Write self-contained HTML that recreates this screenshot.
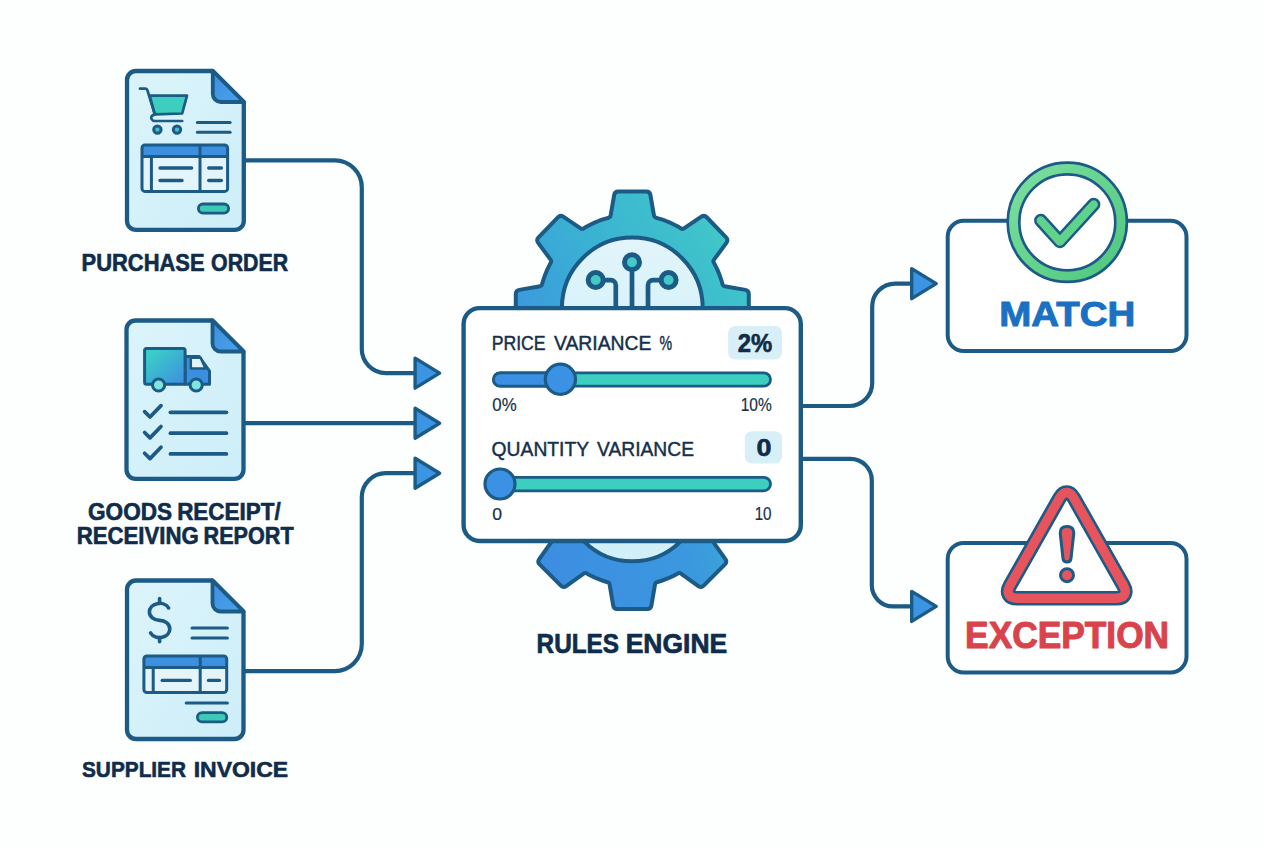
<!DOCTYPE html>
<html><head><meta charset="utf-8"><style>
html,body{margin:0;padding:0;background:#fdfefe;}
body{width:1264px;height:848px;overflow:hidden;font-family:"Liberation Sans",sans-serif;}
svg{position:absolute;left:0;top:0;display:block;}
</style></head><body>
<svg width="1264" height="848" viewBox="0 0 1264 848">
<defs>
<linearGradient id="docg" x1="0" y1="0" x2="1" y2="1"><stop offset="0" stop-color="#dcf4fb"/><stop offset="1" stop-color="#cdeef9"/></linearGradient>
<linearGradient id="foldg" x1="0" y1="0" x2="1" y2="1"><stop offset="0" stop-color="#3d8fe0"/><stop offset="1" stop-color="#4aa3ea"/></linearGradient>
<linearGradient id="truckg" x1="0" y1="0" x2="1" y2="1"><stop offset="0" stop-color="#3ad8c2"/><stop offset="1" stop-color="#3d8de2"/></linearGradient>
<linearGradient id="geartop" x1="0" y1="0.85" x2="1" y2="0.15"><stop offset="0" stop-color="#3c8fe0"/><stop offset="0.5" stop-color="#3ab1d4"/><stop offset="1" stop-color="#42cbc6"/></linearGradient>
<linearGradient id="gearbot" x1="0" y1="0.3" x2="1" y2="0"><stop offset="0" stop-color="#3d8ee2"/><stop offset="0.55" stop-color="#3b98de"/><stop offset="1" stop-color="#3ab4d4"/></linearGradient>
<linearGradient id="innerg" x1="0" y1="0" x2="0" y2="1"><stop offset="0" stop-color="#e2f5fb"/><stop offset="1" stop-color="#d0eff8"/></linearGradient>
<linearGradient id="greeng" x1="0" y1="0" x2="1" y2="1"><stop offset="0" stop-color="#7ddf9f"/><stop offset="1" stop-color="#4fc77f"/></linearGradient>
</defs>
<path d="M244,160.3 L334.8,160.3 A27,27 0 0 1 361.8,187.3 L361.8,349.1 A24,24 0 0 0 385.8,373.1 L416,373.1" fill="none" stroke="#1b5b86" stroke-width="4.2"/>
<path d="M244,423.2 L416,423.2" fill="none" stroke="#1b5b86" stroke-width="4.2"/>
<path d="M244,671.1 L334.8,671.1 A27,27 0 0 0 361.8,644.1 L361.8,497.2 A24,24 0 0 1 385.8,473.2 L416,473.2" fill="none" stroke="#1b5b86" stroke-width="4.2"/>
<path d="M801,406 L849.2,406 A23,23 0 0 0 872.2,383 L872.2,306.6 A23,23 0 0 1 895.2,283.6 L912,283.6" fill="none" stroke="#1b5b86" stroke-width="4.2"/>
<path d="M801,458.9 L850.5,458.9 A21.3,21.3 0 0 1 871.8,480.2 L871.8,585.1 A21.3,21.3 0 0 0 893.1,606.4 L912,606.4" fill="none" stroke="#1b5b86" stroke-width="4.2"/>
<path d="M415.1,358.1 L439.6,373.1 L415.1,388.1 Z" fill="#3b95e3" stroke="#1b5b86" stroke-width="3.4" stroke-linejoin="round"/>
<path d="M415.1,408.2 L439.6,423.2 L415.1,438.2 Z" fill="#3b95e3" stroke="#1b5b86" stroke-width="3.4" stroke-linejoin="round"/>
<path d="M415.1,458.2 L439.6,473.2 L415.1,488.2 Z" fill="#3b95e3" stroke="#1b5b86" stroke-width="3.4" stroke-linejoin="round"/>
<path d="M911.7,268.6 L936.2,283.6 L911.7,298.6 Z" fill="#3b95e3" stroke="#1b5b86" stroke-width="3.4" stroke-linejoin="round"/>
<path d="M911.7,591.4 L936.2,606.4 L911.7,621.4 Z" fill="#3b95e3" stroke="#1b5b86" stroke-width="3.4" stroke-linejoin="round"/>
<path d="M136,71 L212.8,71 L243.8,102 L243.8,220.9 A9,9 0 0 1 234.8,229.9 L136,229.9 A9,9 0 0 1 127,220.9 L127,80 A9,9 0 0 1 136,71 Z" fill="url(#docg)" stroke="#1b5b86" stroke-width="4.3" stroke-linejoin="round"/>
<path d="M212.8,71 L212.8,94 A8,8 0 0 0 220.8,102 L243.8,102 Z" fill="url(#foldg)" stroke="#1b5b86" stroke-width="3.8" stroke-linejoin="round"/>
<path d="M149.6,95.7 L187,95.7 L182.2,113.5 L154.8,114.4 Z" fill="#3ccfc0" stroke="#1b5b86" stroke-width="2.7" stroke-linejoin="round"/>
<path d="M140,88.7 L145.5,88.7 Q147,88.7 147.5,90.5 L154.8,114.4 Q150,116 151.5,119 Q152.5,121 155,121 L182.2,121" fill="none" stroke="#1b5b86" stroke-width="2.7" stroke-linecap="round" stroke-linejoin="round"/>
<circle cx="157.4" cy="129.6" r="3.7" fill="#42c0c8" stroke="#1b5b86" stroke-width="3"/>
<circle cx="177" cy="129.6" r="3.7" fill="#42c0c8" stroke="#1b5b86" stroke-width="3"/>
<line x1="197.4" y1="122.6" x2="230.1" y2="122.6" stroke="#1b5b86" stroke-width="3" stroke-linecap="round"/>
<line x1="197.4" y1="132.2" x2="230.1" y2="132.2" stroke="#1b5b86" stroke-width="3" stroke-linecap="round"/>
<rect x="142" y="145" width="85.6" height="46.400000000000006" rx="3" fill="#e4f4fb" stroke="none"/>
<path d="M142,156.5 L142,148 Q142,145 145,145 L224.6,145 Q227.6,145 227.6,148 L227.6,156.5 Z" fill="#3d8fe0"/>
<rect x="142" y="145" width="85.6" height="46.400000000000006" rx="3" fill="none" stroke="#1b5b86" stroke-width="3.0"/>
<line x1="142" y1="156.5" x2="227.6" y2="156.5" stroke="#1b5b86" stroke-width="3.0"/>
<line x1="200" y1="145" x2="200" y2="191.4" stroke="#1b5b86" stroke-width="3.0"/>
<line x1="151.4" y1="156.5" x2="151.4" y2="191.4" stroke="#1b5b86" stroke-width="3.0"/>
<line x1="160" y1="168" x2="191.7" y2="168" stroke="#1b5b86" stroke-width="3.3" stroke-linecap="round"/>
<line x1="208.7" y1="168" x2="221.4" y2="168" stroke="#1b5b86" stroke-width="3.3" stroke-linecap="round"/>
<line x1="160" y1="180.5" x2="182" y2="180.5" stroke="#1b5b86" stroke-width="3.3" stroke-linecap="round"/>
<line x1="208.7" y1="180.5" x2="221.4" y2="180.5" stroke="#1b5b86" stroke-width="3.3" stroke-linecap="round"/>
<rect x="198.4" y="204" width="30.19999999999999" height="9.099999999999994" rx="4.549999999999997" fill="#3ec9b6" stroke="#1b5b86" stroke-width="2.8"/>
<path d="M135.5,320.5 L212.5,320.5 L243.5,351.5 L243.5,469.8 A9,9 0 0 1 234.5,478.8 L135.5,478.8 A9,9 0 0 1 126.5,469.8 L126.5,329.5 A9,9 0 0 1 135.5,320.5 Z" fill="url(#docg)" stroke="#1b5b86" stroke-width="4.3" stroke-linejoin="round"/>
<path d="M212.5,320.5 L212.5,343.5 A8,8 0 0 0 220.5,351.5 L243.5,351.5 Z" fill="url(#foldg)" stroke="#1b5b86" stroke-width="3.8" stroke-linejoin="round"/>
<path d="M185.1,356.5 L199.2,356.5 L209.5,371 L209.5,384.2 L185.1,384.2 Z" fill="#3b8fe0" stroke="#1b5b86" stroke-width="3" stroke-linejoin="round"/>
<path d="M190.8,357.8 L200.6,357.8 L205.6,368.6 L190.8,368.6 Z" fill="#e3f3fb" stroke="#1b5b86" stroke-width="2.5" stroke-linejoin="round"/>
<rect x="144.6" y="348.6" width="40.5" height="35.6" rx="2" fill="url(#truckg)" stroke="#1b5b86" stroke-width="3"/>
<circle cx="158.6" cy="385" r="6.1" fill="#7fe6dc" stroke="#1b5b86" stroke-width="3"/>
<circle cx="196.2" cy="385" r="6.1" fill="#7fe6dc" stroke="#1b5b86" stroke-width="3"/>
<path d="M144.6,411.6 L150,417.0 L161,405.6" fill="none" stroke="#1b5b86" stroke-width="3.7" stroke-linecap="round" stroke-linejoin="round"/>
<line x1="170.4" y1="412.3" x2="226.4" y2="412.3" stroke="#1b5b86" stroke-width="3.7" stroke-linecap="round"/>
<path d="M144.6,432.5 L150,437.9 L161,426.5" fill="none" stroke="#1b5b86" stroke-width="3.7" stroke-linecap="round" stroke-linejoin="round"/>
<line x1="170.4" y1="433.2" x2="226.4" y2="433.2" stroke="#1b5b86" stroke-width="3.7" stroke-linecap="round"/>
<path d="M144.6,453.2 L150,458.59999999999997 L161,447.2" fill="none" stroke="#1b5b86" stroke-width="3.7" stroke-linecap="round" stroke-linejoin="round"/>
<line x1="170.4" y1="453.9" x2="226.4" y2="453.9" stroke="#1b5b86" stroke-width="3.7" stroke-linecap="round"/>
<path d="M136,580.5 L212.5,580.5 L243.5,611.5 L243.5,730 A9,9 0 0 1 234.5,739 L136,739 A9,9 0 0 1 127,730 L127,589.5 A9,9 0 0 1 136,580.5 Z" fill="url(#docg)" stroke="#1b5b86" stroke-width="4.3" stroke-linejoin="round"/>
<path d="M212.5,580.5 L212.5,603.5 A8,8 0 0 0 220.5,611.5 L243.5,611.5 Z" fill="url(#foldg)" stroke="#1b5b86" stroke-width="3.8" stroke-linejoin="round"/>
<path d="M168.61,607.91 A10.2,8.5 0 0 0 149.40,611.90 A10.2,8.5 0 0 0 159.60,620.40 A10.2,8.5 0 0 1 169.80,629.00 A10.2,8.5 0 0 1 150.59,632.99" fill="none" stroke="#1b5b86" stroke-width="3.6" stroke-linecap="round" stroke-linejoin="round"/>
<line x1="159.6" y1="598.6" x2="159.6" y2="603.40" stroke="#1b5b86" stroke-width="3.6" stroke-linecap="round"/>
<line x1="159.6" y1="637.50" x2="159.6" y2="641.8" stroke="#1b5b86" stroke-width="3.6" stroke-linecap="round"/>
<line x1="192" y1="628" x2="227.4" y2="628" stroke="#1b5b86" stroke-width="3" stroke-linecap="round"/>
<line x1="192" y1="637.9" x2="227.4" y2="637.9" stroke="#1b5b86" stroke-width="3" stroke-linecap="round"/>
<rect x="143.9" y="655.9" width="82.79999999999998" height="36.60000000000002" rx="3" fill="#e4f4fb" stroke="none"/>
<path d="M143.9,667.6 L143.9,658.9 Q143.9,655.9 146.9,655.9 L223.7,655.9 Q226.7,655.9 226.7,658.9 L226.7,667.6 Z" fill="#3d8fe0"/>
<rect x="143.9" y="655.9" width="82.79999999999998" height="36.60000000000002" rx="3" fill="none" stroke="#1b5b86" stroke-width="3.0"/>
<line x1="143.9" y1="667.6" x2="226.7" y2="667.6" stroke="#1b5b86" stroke-width="3.0"/>
<line x1="200.2" y1="655.9" x2="200.2" y2="692.5" stroke="#1b5b86" stroke-width="3.0"/>
<line x1="153.2" y1="667.6" x2="153.2" y2="692.5" stroke="#1b5b86" stroke-width="3.0"/>
<line x1="162.2" y1="680.4" x2="190.3" y2="680.4" stroke="#1b5b86" stroke-width="3.3" stroke-linecap="round"/>
<line x1="208.4" y1="680.4" x2="219.5" y2="680.4" stroke="#1b5b86" stroke-width="3.3" stroke-linecap="round"/>
<line x1="186.2" y1="703" x2="227.4" y2="703" stroke="#1b5b86" stroke-width="3" stroke-linecap="round"/>
<rect x="197.4" y="712.7" width="29.400000000000006" height="9.199999999999932" rx="4.599999999999966" fill="#3ec9b6" stroke="#1b5b86" stroke-width="2.8"/>
<text x="81.58" y="270.60" font-family="Liberation Sans" font-size="23.40" font-weight="bold" fill="#0f2c4a" stroke="#0f2c4a" stroke-width="0.6" stroke-linejoin="round" textLength="123.01" lengthAdjust="spacingAndGlyphs">PURCHASE</text>
<text x="211.06" y="270.60" font-family="Liberation Sans" font-size="23.40" font-weight="bold" fill="#0f2c4a" stroke="#0f2c4a" stroke-width="0.6" stroke-linejoin="round" textLength="77.01" lengthAdjust="spacingAndGlyphs">ORDER</text>
<text x="88.06" y="519.60" font-family="Liberation Sans" font-size="23.11" font-weight="bold" fill="#0f2c4a" stroke="#0f2c4a" stroke-width="0.6" stroke-linejoin="round" textLength="84.01" lengthAdjust="spacingAndGlyphs">GOODS</text>
<text x="177.16" y="519.60" font-family="Liberation Sans" font-size="23.11" font-weight="bold" fill="#0f2c4a" stroke="#0f2c4a" stroke-width="0.6" stroke-linejoin="round" textLength="103.53" lengthAdjust="spacingAndGlyphs">RECEIPT/</text>
<text x="76.66" y="543.50" font-family="Liberation Sans" font-size="23.11" font-weight="bold" fill="#0f2c4a" stroke="#0f2c4a" stroke-width="0.6" stroke-linejoin="round" textLength="122.05" lengthAdjust="spacingAndGlyphs">RECEIVING</text>
<text x="203.62" y="543.50" font-family="Liberation Sans" font-size="23.11" font-weight="bold" fill="#0f2c4a" stroke="#0f2c4a" stroke-width="0.6" stroke-linejoin="round" textLength="90.02" lengthAdjust="spacingAndGlyphs">REPORT</text>
<text x="82.00" y="777.00" font-family="Liberation Sans" font-size="22.67" font-weight="bold" fill="#0f2c4a" stroke="#0f2c4a" stroke-width="0.6" stroke-linejoin="round" textLength="104.01" lengthAdjust="spacingAndGlyphs">SUPPLIER</text>
<text x="193.66" y="777.00" font-family="Liberation Sans" font-size="22.67" font-weight="bold" fill="#0f2c4a" stroke="#0f2c4a" stroke-width="0.6" stroke-linejoin="round" textLength="94.52" lengthAdjust="spacingAndGlyphs">INVOICE</text>
<path d="M722.58,284.52 Q722.97,286.00 724.48,286.26 L745.35,289.90 Q748.80,290.50 748.80,294.00 L748.80,322.00 Q748.80,325.50 745.35,326.10 L724.58,329.72 Q722.97,330.00 722.55,331.59 L722.05,333.49 L721.00,336.94 L719.81,340.35 L718.50,343.70 L717.05,347.01 L715.48,350.26 L713.79,353.44 L712.80,355.14 Q711.97,356.56 712.91,357.90 L725.04,375.14 Q727.05,378.00 724.58,380.48 L704.78,400.28 Q702.30,402.75 699.44,400.74 L682.20,388.61 Q680.86,387.67 679.44,388.50 L677.74,389.49 L674.56,391.18 L671.31,392.75 L668.00,394.20 L664.65,395.51 L661.24,396.70 L657.79,397.75 L655.89,398.25 Q654.30,398.67 654.02,400.28 L650.40,421.05 Q649.80,424.50 646.30,424.50 L618.30,424.50 Q614.80,424.50 614.20,421.05 L610.58,400.28 Q610.30,398.67 608.71,398.25 L606.81,397.75 L603.36,396.70 L599.95,395.51 L596.60,394.20 L593.29,392.75 L590.04,391.18 L586.86,389.49 L585.16,388.50 Q583.74,387.67 582.40,388.61 L565.16,400.74 Q562.30,402.75 559.82,400.28 L540.02,380.48 Q537.55,378.00 539.56,375.14 L551.69,357.90 Q552.63,356.56 551.80,355.14 L550.81,353.44 L549.12,350.26 L547.55,347.01 L546.10,343.70 L544.79,340.35 L543.60,336.94 L542.55,333.49 L542.05,331.59 Q541.63,330.00 540.02,329.72 L519.25,326.10 Q515.80,325.50 515.80,322.00 L515.80,294.00 Q515.80,290.50 519.25,289.90 L540.12,286.26 Q541.63,286.00 542.02,284.52 L542.48,282.75 L543.45,279.53 L544.53,276.34 L545.73,273.20 L547.04,270.10 L548.46,267.06 L549.99,264.06 L550.89,262.46 Q551.63,261.12 550.73,259.89 L538.18,242.82 Q536.10,240.00 538.52,237.47 L557.90,217.26 Q560.33,214.73 563.23,216.69 L580.63,228.39 Q582.09,229.37 583.58,228.45 L585.37,227.36 L588.74,225.49 L592.18,223.76 L595.69,222.18 L599.27,220.74 L602.90,219.45 L606.58,218.32 L608.61,217.78 Q610.30,217.33 610.60,215.61 L614.20,194.95 Q614.80,191.50 618.30,191.50 L646.30,191.50 Q649.80,191.50 650.40,194.95 L654.00,215.61 Q654.30,217.33 655.99,217.78 L658.02,218.32 L661.70,219.45 L665.33,220.74 L668.91,222.18 L672.42,223.76 L675.86,225.49 L679.23,227.36 L681.02,228.45 Q682.51,229.37 683.97,228.39 L701.37,216.69 Q704.27,214.73 706.70,217.26 L726.08,237.47 Q728.50,240.00 726.42,242.82 L713.87,259.89 Q712.97,261.12 713.71,262.46 L714.61,264.06 L716.14,267.06 L717.56,270.10 L718.87,273.20 L720.07,276.34 L721.15,279.53 L722.12,282.75 Z" fill="url(#geartop)" stroke="#1b5b86" stroke-width="4" stroke-linejoin="round"/>
<circle cx="632.3" cy="308" r="70.4" fill="url(#innerg)" stroke="#1b5b86" stroke-width="4"/>
<path d="M721.50,468.57 Q721.89,470.00 723.36,470.25 L744.85,473.91 Q748.30,474.50 748.30,478.00 L748.30,508.00 Q748.30,511.50 744.85,512.09 L723.36,515.75 Q721.89,516.00 721.50,517.43 L721.03,519.15 L720.05,522.27 L718.96,525.36 L717.76,528.40 L716.45,531.40 L715.04,534.35 L713.53,537.25 L712.65,538.80 Q711.92,540.09 712.78,541.30 L725.38,559.09 Q727.41,561.94 724.93,564.42 L703.72,585.63 Q701.24,588.11 698.39,586.08 L680.60,573.48 Q679.39,572.62 678.10,573.35 L676.55,574.23 L673.65,575.74 L670.70,577.15 L667.70,578.46 L664.66,579.66 L661.57,580.75 L658.45,581.73 L656.73,582.20 Q655.30,582.59 655.05,584.06 L651.39,605.55 Q650.80,609.00 647.30,609.00 L617.30,609.00 Q613.80,609.00 613.21,605.55 L609.55,584.06 Q609.30,582.59 607.87,582.20 L606.15,581.73 L603.03,580.75 L599.94,579.66 L596.90,578.46 L593.90,577.15 L590.95,575.74 L588.05,574.23 L586.50,573.35 Q585.21,572.62 584.00,573.48 L566.21,586.08 Q563.36,588.11 560.88,585.63 L539.67,564.42 Q537.19,561.94 539.22,559.09 L551.82,541.30 Q552.68,540.09 551.95,538.80 L551.07,537.25 L549.56,534.35 L548.15,531.40 L546.84,528.40 L545.64,525.36 L544.55,522.27 L543.57,519.15 L543.10,517.43 Q542.71,516.00 541.24,515.75 L519.75,512.09 Q516.30,511.50 516.30,508.00 L516.30,478.00 Q516.30,474.50 519.75,473.91 L541.24,470.25 Q542.71,470.00 543.10,468.57 L543.57,466.85 L544.55,463.73 L545.64,460.64 L546.84,457.60 L548.15,454.60 L549.56,451.65 L551.07,448.75 L551.95,447.20 Q552.68,445.91 551.82,444.70 L539.22,426.91 Q537.19,424.06 539.67,421.58 L560.88,400.37 Q563.36,397.89 566.21,399.92 L584.00,412.52 Q585.21,413.38 586.50,412.65 L588.05,411.77 L590.95,410.26 L593.90,408.85 L596.90,407.54 L599.94,406.34 L603.03,405.25 L606.15,404.27 L607.87,403.80 Q609.30,403.41 609.55,401.94 L613.21,380.45 Q613.80,377.00 617.30,377.00 L647.30,377.00 Q650.80,377.00 651.39,380.45 L655.05,401.94 Q655.30,403.41 656.73,403.80 L658.45,404.27 L661.57,405.25 L664.66,406.34 L667.70,407.54 L670.70,408.85 L673.65,410.26 L676.55,411.77 L678.10,412.65 Q679.39,413.38 680.60,412.52 L698.39,399.92 Q701.24,397.89 703.72,400.37 L724.93,421.58 Q727.41,424.06 725.38,426.91 L712.78,444.70 Q711.92,445.91 712.65,447.20 L713.53,448.75 L715.04,451.65 L716.45,454.60 L717.76,457.60 L718.96,460.64 L720.05,463.73 L721.03,466.85 Z" fill="url(#gearbot)" stroke="#1b5b86" stroke-width="4" stroke-linejoin="round"/>
<circle cx="632.3" cy="493" r="68.3" fill="url(#innerg)" stroke="#1b5b86" stroke-width="4"/>
<path d="M632,270 L632,310" stroke="#1b5b86" stroke-width="4.7" fill="none"/>
<path d="M604,280.2 L610.8,280.2 A5,5 0 0 1 615.8,285.2 L615.8,310" stroke="#1b5b86" stroke-width="4.7" fill="none"/>
<path d="M660,280.2 L653,280.2 A5,5 0 0 0 648,285.2 L648,310" stroke="#1b5b86" stroke-width="4.7" fill="none"/>
<circle cx="632" cy="262.3" r="7.5" fill="#42c9c8" stroke="#1b5b86" stroke-width="5"/>
<circle cx="595.7" cy="280" r="7.5" fill="#42c9c8" stroke="#1b5b86" stroke-width="5"/>
<circle cx="668.6" cy="280" r="7.5" fill="#42c9c8" stroke="#1b5b86" stroke-width="5"/>
<rect x="463.6" y="308.1" width="337.2" height="232.9" rx="16" fill="#ffffff" stroke="#1b5b86" stroke-width="4.4"/>
<text x="491.64" y="350.47" font-family="Liberation Sans" font-size="19.40" font-weight="normal" fill="#14304b" stroke="#14304b" stroke-width="0.45" stroke-linejoin="round" textLength="54.03" lengthAdjust="spacingAndGlyphs">PRICE</text>
<text x="553.96" y="350.47" font-family="Liberation Sans" font-size="19.40" font-weight="normal" fill="#14304b" stroke="#14304b" stroke-width="0.45" stroke-linejoin="round" textLength="97.51" lengthAdjust="spacingAndGlyphs">VARIANCE</text>
<text x="659.52" y="350.47" font-family="Liberation Sans" font-size="19.40" font-weight="normal" fill="#14304b" stroke="#14304b" stroke-width="0.45" stroke-linejoin="round" textLength="12.58" lengthAdjust="spacingAndGlyphs">%</text>
<rect x="728.1" y="325.9" width="53.9" height="33.6" rx="7" fill="#d9eff8"/>
<text x="737.76" y="351.50" font-family="Liberation Sans" font-size="25.15" font-weight="bold" fill="#112c46" stroke="#112c46" stroke-width="0.6" stroke-linejoin="round" textLength="34.47" lengthAdjust="spacingAndGlyphs">2%</text>
<rect x="493.5" y="372.8" width="277" height="13.4" rx="6.7" fill="#3ccfc0" stroke="#1b5b86" stroke-width="2.8"/>
<path d="M560,372.8 L500.2,372.8 A6.7,6.7 0 0 0 500.2,386.2 L560,386.2 Z" fill="#3b90e3" stroke="#1b5b86" stroke-width="2.8"/>
<circle cx="560.4" cy="379.2" r="15.1" fill="#3b92e4" stroke="#1b5b86" stroke-width="3.2"/>
<text x="492.34" y="411.30" font-family="Liberation Sans" font-size="18.46" font-weight="normal" fill="#14304b" stroke="#14304b" stroke-width="0.2" stroke-linejoin="round" textLength="24.28" lengthAdjust="spacingAndGlyphs">0%</text>
<text x="740.76" y="411.30" font-family="Liberation Sans" font-size="18.60" font-weight="normal" fill="#14304b" stroke="#14304b" stroke-width="0.2" stroke-linejoin="round" textLength="31.03" lengthAdjust="spacingAndGlyphs">10%</text>
<text x="491.62" y="455.97" font-family="Liberation Sans" font-size="19.84" font-weight="normal" fill="#14304b" stroke="#14304b" stroke-width="0.45" stroke-linejoin="round" textLength="97.52" lengthAdjust="spacingAndGlyphs">QUANTITY</text>
<text x="597.00" y="455.97" font-family="Liberation Sans" font-size="19.84" font-weight="normal" fill="#14304b" stroke="#14304b" stroke-width="0.45" stroke-linejoin="round" textLength="97.00" lengthAdjust="spacingAndGlyphs">VARIANCE</text>
<rect x="744.8" y="431.2" width="37.2" height="32.4" rx="7" fill="#d9eff8"/>
<text x="756.42" y="456.20" font-family="Liberation Sans" font-size="24.71" font-weight="bold" fill="#112c46" stroke="#112c46" stroke-width="0.6" stroke-linejoin="round" textLength="15.00" lengthAdjust="spacingAndGlyphs">0</text>
<rect x="493.5" y="477.4" width="277" height="13.4" rx="6.7" fill="#3ccfc0" stroke="#1b5b86" stroke-width="2.8"/>
<circle cx="500" cy="484" r="15" fill="#3b92e4" stroke="#1b5b86" stroke-width="3.2"/>
<text x="492.34" y="519.70" font-family="Liberation Sans" font-size="17.01" font-weight="normal" fill="#14304b" stroke="#14304b" stroke-width="0.2" stroke-linejoin="round" textLength="9.79" lengthAdjust="spacingAndGlyphs">0</text>
<text x="754.68" y="520.20" font-family="Liberation Sans" font-size="18.60" font-weight="normal" fill="#14304b" stroke="#14304b" stroke-width="0.2" stroke-linejoin="round" textLength="16.86" lengthAdjust="spacingAndGlyphs">10</text>
<text x="536.58" y="653.05" font-family="Liberation Sans" font-size="27.91" font-weight="bold" fill="#0f2c4a" stroke="#0f2c4a" stroke-width="0.7" stroke-linejoin="round" textLength="82.52" lengthAdjust="spacingAndGlyphs">RULES</text>
<text x="625.68" y="653.05" font-family="Liberation Sans" font-size="27.91" font-weight="bold" fill="#0f2c4a" stroke="#0f2c4a" stroke-width="0.7" stroke-linejoin="round" textLength="101.53" lengthAdjust="spacingAndGlyphs">ENGINE</text>
<rect x="947.7" y="220.8" width="238.8" height="130.3" rx="16" fill="#ffffff" stroke="#1b5b86" stroke-width="4"/>
<circle cx="1067.3" cy="222.3" r="54" fill="#ffffff" stroke="url(#greeng)" stroke-width="10"/>
<circle cx="1067.3" cy="222.3" r="59.6" fill="none" stroke="#1b5b86" stroke-width="2.7"/>
<circle cx="1067.3" cy="222.3" r="48" fill="#ffffff" stroke="#1b5b86" stroke-width="2.7"/>
<path d="M1040.8,220.5 L1059.9,241.6 L1093.7,204.5" fill="none" stroke="#1b5b86" stroke-width="13.4" stroke-linecap="round" stroke-linejoin="round"/>
<path d="M1040.8,220.5 L1059.9,241.6 L1093.7,204.5" fill="none" stroke="#5fd38c" stroke-width="8.4" stroke-linecap="round" stroke-linejoin="round"/>
<text x="999.28" y="326.00" font-family="Liberation Sans" font-size="35.76" font-weight="bold" fill="#1a70c2" stroke="#1a70c2" stroke-width="1.0" stroke-linejoin="round" textLength="136.03" lengthAdjust="spacingAndGlyphs">MATCH</text>
<rect x="947.7" y="542.9" width="238.8" height="129.7" rx="16" fill="#ffffff" stroke="#1b5b86" stroke-width="4"/>
<path d="M1059.56,498.02 C1063.70,490.70 1069.70,490.70 1073.84,498.02 L1123.46,585.68 C1127.60,593.00 1124.51,598.30 1116.10,598.30 L1017.30,598.30 C1008.89,598.30 1005.80,593.00 1009.94,585.68 Z" fill="#ffffff" stroke="#1b5b86" stroke-width="14.6" stroke-linejoin="round"/>
<path d="M1059.56,498.02 C1063.70,490.70 1069.70,490.70 1073.84,498.02 L1123.46,585.68 C1127.60,593.00 1124.51,598.30 1116.10,598.30 L1017.30,598.30 C1008.89,598.30 1005.80,593.00 1009.94,585.68 Z" fill="none" stroke="#e6555d" stroke-width="9.4" stroke-linejoin="round"/>
<path d="M1060.2,533 Q1060.2,526.6 1067,526.6 Q1073.8,526.6 1073.8,533 L1071,558.5 Q1070.6,562 1067,562 Q1063.4,562 1063,558.5 Z" fill="#e6555d" stroke="#1b5b86" stroke-width="3" stroke-linejoin="round"/>
<circle cx="1067" cy="575.2" r="6.5" fill="#e6555d" stroke="#1b5b86" stroke-width="3"/>
<text x="965.12" y="647.80" font-family="Liberation Sans" font-size="36.05" font-weight="bold" fill="#d9434c" stroke="#d9434c" stroke-width="1.0" stroke-linejoin="round" textLength="203.97" lengthAdjust="spacingAndGlyphs">EXCEPTION</text>
</svg>
</body></html>
